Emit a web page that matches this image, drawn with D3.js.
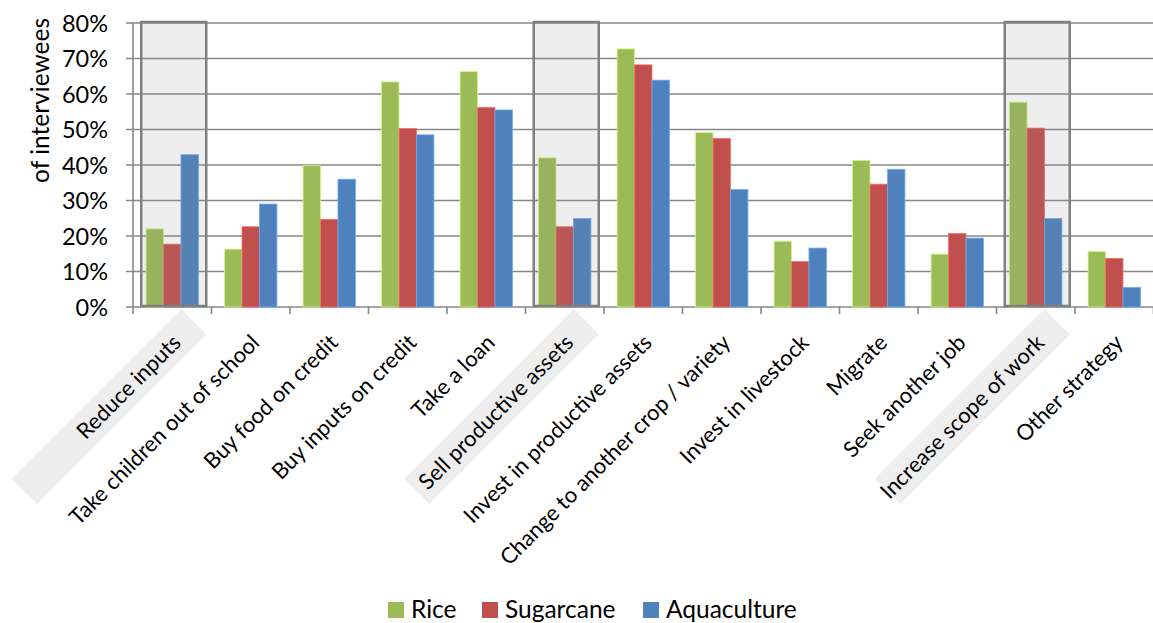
<!DOCTYPE html>
<html>
<head>
<meta charset="utf-8">
<script src="https://cdn.jsdelivr.net/npm/d3@7"></script>
<style>
  body { margin: 0; background: #fff; }
  svg { font-family: Lato, "Open Sans", sans-serif; }
</style>
</head>
<body>
<svg id="chart" width="1153" height="623"></svg>
<script>
// categories and values
const strategies = ["Reduce inputs", "Take children out of school", "Buy food on credit",
  "Buy inputs on credit", "Take a loan", "Sell productive assets", "Invest in productive assets",
  "Change to another crop / variety", "Invest in livestock", "Migrate", "Seek another job",
  "Increase scope of work", "Other strategy"];
const highlighted = ["Reduce inputs", "Sell productive assets", "Increase scope of work"];
const seriesNames = ["Rice", "Sugarcane", "Aquaculture"];
const rice =        [0.220, 0.163, 0.398, 0.634, 0.663, 0.420, 0.727, 0.491, 0.185, 0.413, 0.149, 0.577, 0.156];
const sugarcane =   [0.177, 0.226, 0.247, 0.503, 0.562, 0.226, 0.682, 0.475, 0.128, 0.346, 0.207, 0.504, 0.137];
const aquaculture = [0.429, 0.290, 0.360, 0.485, 0.555, 0.249, 0.639, 0.331, 0.166, 0.388, 0.194, 0.249, 0.055];
const yTicks = [0, 0.1, 0.2, 0.3, 0.4, 0.5, 0.6, 0.7, 0.8];
const colors = ["#9bbb59", "#c0504d", "#4f81bd"];

const series = [rice, sugarcane, aquaculture];

const svg = d3.select("#chart");
const plotLeft = 133, plotRight = 1153.5, plotTop = 23, plotBottom = 307;

let x = d3.scaleBand().domain(strategies).range([plotLeft, plotRight]).padding(0);
let xs = d3.scaleBand().domain(seriesNames).range([0, x.bandwidth()]).paddingInner(0).paddingOuter(0.75);
let y = d3.scaleLinear().domain([0, 0.8]).range([plotBottom, plotTop]);

// gridlines
svg.append("g").selectAll("line")
  .data(yTicks).enter().append("line")
  .attr("x1", plotLeft - 7).attr("x2", 1153)
  .attr("y1", d => y(d)).attr("y2", d => y(d))
  .attr("stroke", "#878787").attr("stroke-width", 1.6);

// y tick labels
svg.append("g").selectAll("text")
  .data(yTicks).enter().append("text")
  .attr("x", 108).attr("y", d => y(d) + 8.5)
  .attr("text-anchor", "end")
  .attr("font-size", "23.5px").attr("fill", "#000")
  .text(d => d3.format(".0%")(d));

// y axis line and category ticks
svg.append("line")
  .attr("x1", plotLeft).attr("x2", plotLeft).attr("y1", plotTop).attr("y2", plotBottom + 7)
  .attr("stroke", "#878787").attr("stroke-width", 1.6);
svg.append("g").selectAll("line")
  .data(strategies.slice(1).concat(["end"])).enter().append("line")
  .attr("x1", d => d == "end" ? plotRight : x(d)).attr("x2", d => d == "end" ? plotRight : x(d))
  .attr("y1", plotBottom).attr("y2", plotBottom + 7)
  .attr("stroke", "#878787").attr("stroke-width", 1.6);

// bars
let groups = svg.append("g").selectAll("g")
  .data(strategies).enter().append("g")
  .attr("transform", d => "translate(" + x(d) + ",0)");

groups.selectAll("rect")
  .data((d, i) => series.map((s, j) => ({name: seriesNames[j], value: s[i], color: colors[j]})))
  .enter().append("rect")
  .attr("x", d => xs(d.name))
  .attr("y", d => y(d.value))
  .attr("width", xs.bandwidth())
  .attr("height", d => plotBottom - y(d.value))
  .attr("fill", d => d.color)
  .attr("stroke", d => d3.color(d.color).brighter(0.8))
  .attr("stroke-width", 0.8);

// highlight boxes over the chosen categories
svg.append("g").selectAll("rect")
  .data(highlighted).enter().append("rect")
  .attr("x", d => x(d) + x.bandwidth() / 2 - 31)
  .attr("y", plotTop - 1)
  .attr("width", 65)
  .attr("height", plotBottom - plotTop)
  .attr("fill", "#888").attr("fill-opacity", 0.14)
  .attr("stroke", "#808080").attr("stroke-width", 2.5);

// rotated category labels with grey bands
let labels = svg.append("g").selectAll("g")
  .data(strategies).enter().append("g")
  .attr("transform", d => "translate(" + (x(d) + x.bandwidth() / 2 + 10) + ",344) rotate(-45)");

labels.filter(d => highlighted.includes(d)).append("rect")
  .attr("x", -216).attr("y", -25.6).attr("width", 240).attr("height", 36)
  .attr("fill", "#eeeeee");

labels.append("text")
  .attr("text-anchor", "end")
  .attr("font-size", "22px").attr("fill", "#000")
  .text(d => d);

// y axis title
svg.append("text")
  .attr("transform", "translate(49,18) rotate(-90)")
  .attr("text-anchor", "end")
  .attr("font-size", "24.5px")
  .text("of interviewees");

// legend
let legend = svg.append("g").selectAll("g")
  .data(seriesNames).enter().append("g")
  .attr("transform", (d, i) => "translate(" + [388, 482, 643][i] + ",602)");
legend.append("rect")
  .attr("width", 16).attr("height", 16)
  .attr("fill", (d, i) => colors[i]);
legend.append("text")
  .attr("x", 23).attr("y", 16)
  .attr("font-size", "24.5px")
  .text(d => d);
</script>
</body>
</html>
